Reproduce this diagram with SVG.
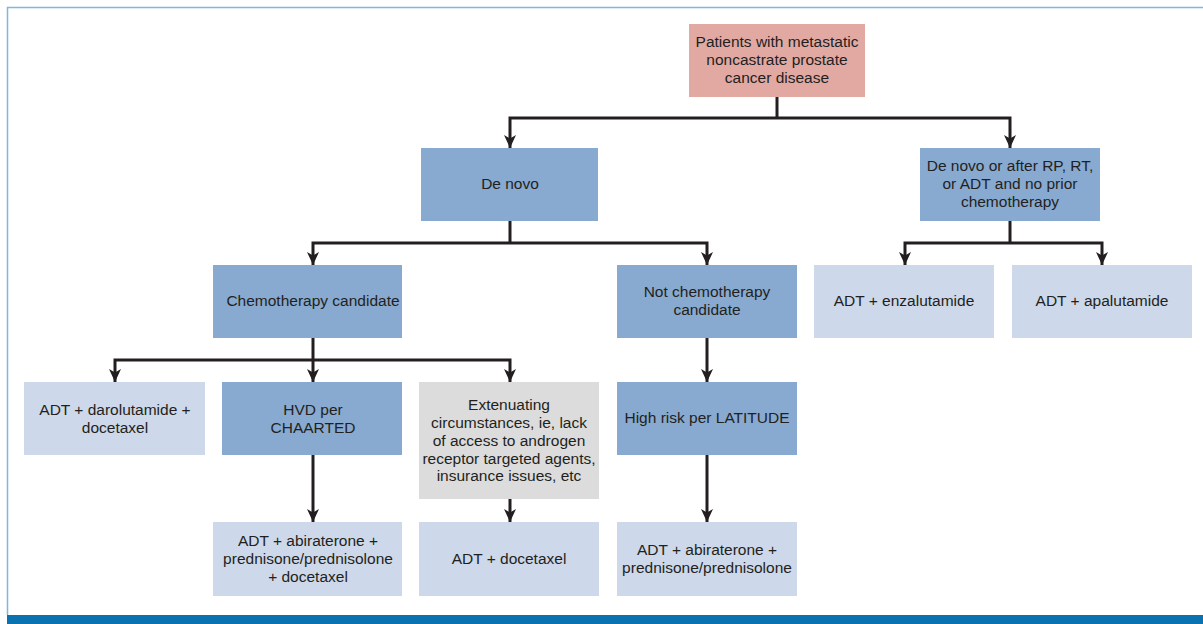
<svg xmlns="http://www.w3.org/2000/svg" width="1203" height="624" viewBox="0 0 1203 624">
<style>
text{font-family:"Liberation Sans",Arial,sans-serif;font-size:15.5px;fill:#231f20;text-anchor:middle}
.pink{fill:#e2a9a3}
.mid{fill:#88aad0}
.light{fill:#cdd8ea}
.gray{fill:#dcdcdc}
.conn path{fill:none;stroke:#231f20;stroke-width:3;marker-end:url(#arr)}
.conn path.plain{marker-end:none}
</style>
<defs>
<marker id="arr" viewBox="0 0 13 12" refX="13" refY="6" markerWidth="13" markerHeight="12" markerUnits="userSpaceOnUse" orient="auto">
<path d="M0,0 L13,6 L0,12 L3.5,6 z" fill="#231f20"/>
</marker>
</defs>
<rect x="0" y="0" width="1203" height="624" fill="#ffffff"/>
<g id="frame">
<path d="M7.5,615 V7.5 H1203" fill="none" stroke="#7db9d8" stroke-width="1.5"/>
<rect x="7" y="615" width="1196" height="9" fill="#0b72b0"/>
</g>
<g class="conn" id="connectors">
<path class="plain" d="M777,97 V118"/>
<path d="M777,118 H510 V148"/>
<path d="M777,118 H1010 V148"/>
<path class="plain" d="M510,221 V243"/>
<path d="M510,243 H313 V265"/>
<path d="M510,243 H707 V265"/>
<path class="plain" d="M1010,221 V243"/>
<path d="M1010,243 H905 V265"/>
<path d="M1010,243 H1102 V265"/>
<path class="plain" d="M313,338 V360"/>
<path d="M313,360 H115 V382"/>
<path d="M313,360 V382"/>
<path d="M313,360 H510 V382"/>
<path d="M707,338 V382"/>
<path d="M313,455 V522"/>
<path d="M510,499 V522"/>
<path d="M707,455 V522"/>
</g>
<g id="n-root">
<rect class="pink" x="689" y="24" width="176" height="73"/>
<text x="777" y="47">Patients with metastatic</text>
<text x="777" y="65">noncastrate prostate</text>
<text x="777" y="83">cancer disease</text>
</g>
<g id="n-denovo">
<rect class="mid" x="421" y="148" width="177" height="73"/>
<text x="510" y="189">De novo</text>
</g>
<g id="n-denovo-after">
<rect class="mid" x="920" y="148" width="180" height="73"/>
<text x="1010" y="171">De novo or after RP, RT,</text>
<text x="1010" y="189">or ADT and no prior</text>
<text x="1010" y="207">chemotherapy</text>
</g>
<g id="n-chemo">
<rect class="mid" x="213" y="265" width="189" height="73"/>
<text x="313" y="306">Chemotherapy candidate</text>
</g>
<g id="n-notchemo">
<rect class="mid" x="617" y="265" width="180" height="73"/>
<text x="707" y="297">Not chemotherapy</text>
<text x="707" y="315">candidate</text>
</g>
<g id="n-enza">
<rect class="light" x="814" y="265" width="180" height="73"/>
<text x="904" y="306">ADT + enzalutamide</text>
</g>
<g id="n-apa">
<rect class="light" x="1012" y="265" width="180" height="73"/>
<text x="1102" y="306">ADT + apalutamide</text>
</g>
<g id="n-daro">
<rect class="light" x="24" y="382" width="181" height="73"/>
<text x="115" y="415">ADT + darolutamide +</text>
<text x="115" y="433">docetaxel</text>
</g>
<g id="n-hvd">
<rect class="mid" x="222" y="382" width="180" height="73"/>
<text x="313" y="415">HVD per</text>
<text x="313" y="433">CHAARTED</text>
</g>
<g id="n-extenuating">
<rect class="gray" x="419" y="382" width="180" height="117"/>
<text x="509" y="410">Extenuating</text>
<text x="509" y="428">circumstances, ie, lack</text>
<text x="509" y="446">of access to androgen</text>
<text x="509" y="464">receptor targeted agents,</text>
<text x="509" y="481">insurance issues, etc</text>
</g>
<g id="n-highrisk">
<rect class="mid" x="617" y="382" width="180" height="73"/>
<text x="707" y="423">High risk per LATITUDE</text>
</g>
<g id="n-abi-doc">
<rect class="light" x="213" y="522" width="189" height="74"/>
<text x="308" y="546">ADT + abiraterone +</text>
<text x="308" y="564">prednisone/prednisolone</text>
<text x="308" y="582">+ docetaxel</text>
</g>
<g id="n-doc">
<rect class="light" x="419" y="522" width="180" height="74"/>
<text x="509" y="564">ADT + docetaxel</text>
</g>
<g id="n-abi">
<rect class="light" x="617" y="522" width="180" height="74"/>
<text x="707" y="555">ADT + abiraterone +</text>
<text x="707" y="573">prednisone/prednisolone</text>
</g>
</svg>
